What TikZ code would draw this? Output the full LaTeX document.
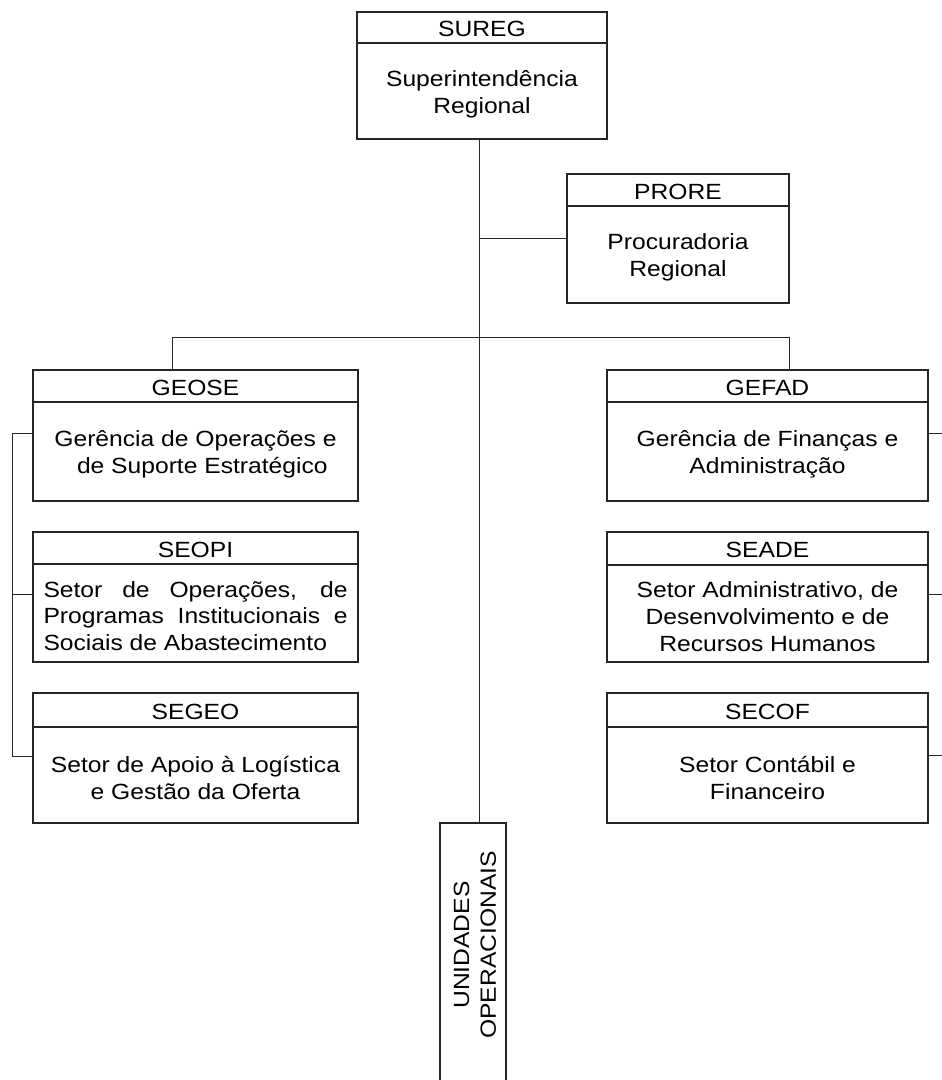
\documentclass[tikz,border=0pt]{standalone}
\usepackage{fontspec}
\setmainfont{Liberation Sans}[FakeStretch=1.12]
\begin{document}
\begin{tikzpicture}[x=1pt,y=1pt,
  boxline/.style={draw=black!85, line width=1.1pt},
  frame/.style={boxline, rectangle, inner sep=0pt, outer sep=0pt},
  label/.style={inner sep=0pt, align=center, font=\fontsize{22}{26.7}\selectfont},
  wire/.style={draw=black!85, line width=1pt}]
\useasboundingbox (0,0) rectangle (942,-1080);
\clip (0,0) rectangle (942,-1080);

% \orgbox{name}{x1}{y1}{x2}{y2}{header line y}{header}{body}
\newcommand\orgbox[8]{%
  \node[frame, minimum width={(#4-#2)*1pt}, minimum height={(#5-#3)*1pt}]
    (#1) at ({(#2+#4)/2},{-(#3+#5)/2}) {};
  \draw[boxline] (#2,-#6) -- (#4,-#6);
  \node[label] (#1-h) at ({(#2+#4)/2},{-(#3+#6)/2-1.5}) {#7};
  \node[label] (#1-b) at ({(#2+#4)/2},{-(#6+#5)/2-3}) {#8};
}

\orgbox{sureg}{357}{12}{607}{139}{43}{SUREG}{Superintendência\\Regional}
\orgbox{prore}{567}{174}{789}{303}{206}{PRORE}{Procuradoria\\Regional}
\orgbox{geose}{33}{370}{358}{501}{402}{GEOSE}{Gerência de Operações e\\\ \ de Suporte Estratégico}
\orgbox{gefad}{607}{370}{928}{501}{402}{GEFAD}{Gerência de Finanças e\\Administração}
\orgbox{seopi}{33}{532}{358}{662}{564}{SEOPI}{%
  \makebox[304pt][s]{Setor de Operações, de}\\
  \makebox[304pt][s]{Programas Institucionais e}\\
  \makebox[304pt][l]{Sociais de Abastecimento}}
\orgbox{seade}{607}{532}{928}{662}{565}{SEADE}{Setor Administrativo, de\\Desenvolvimento e de\\Recursos Humanos}
\orgbox{segeo}{33}{693}{358}{823}{727}{SEGEO}{Setor de Apoio à Logística\\e Gestão da Oferta}
\orgbox{secof}{607}{693}{928}{823}{727}{SECOF}{Setor Contábil e\\Financeiro}

% operational units, running off the bottom of the page
\node[frame, minimum width=66pt, minimum height=280pt] (unid) at (473,-963) {};
\node[label, rotate=90] (unid-t) at (475,-945) {UNIDADES\\OPERACIONAIS};

% main trunk
\coordinate (trunk) at ([xshift=-3pt]sureg.south);
\draw[wire] (trunk) -- (trunk |- unid.north);
\draw[wire] (prore.west) -- (prore.west -| trunk);

% bus to the two managements
\coordinate (bus) at (0,-337);
\draw[wire] ([xshift=-23.5pt]geose.north) |- (bus -| trunk);
\draw[wire] ([xshift=21.5pt]gefad.north) |- (bus -| trunk);

% left side rail
\coordinate (lrail) at (12,0);
\draw[wire] ([yshift=2pt]geose.west) -- ([yshift=2pt]geose.west -| lrail)
  -- ([yshift=2pt]segeo.west -| lrail) -- ([yshift=2pt]segeo.west);
\draw[wire] ([yshift=3pt]seopi.west) -- ([yshift=3pt]seopi.west -| lrail);

% right side stubs
\coordinate (rrail) at (945,0);
\draw[wire] ([yshift=2pt]gefad.east) -- ([yshift=2pt]gefad.east -| rrail);
\draw[wire] ([yshift=3pt]seade.east) -- ([yshift=3pt]seade.east -| rrail);
\draw[wire] ([yshift=3pt]secof.east) -- ([yshift=3pt]secof.east -| rrail);
\end{tikzpicture}
\end{document}
